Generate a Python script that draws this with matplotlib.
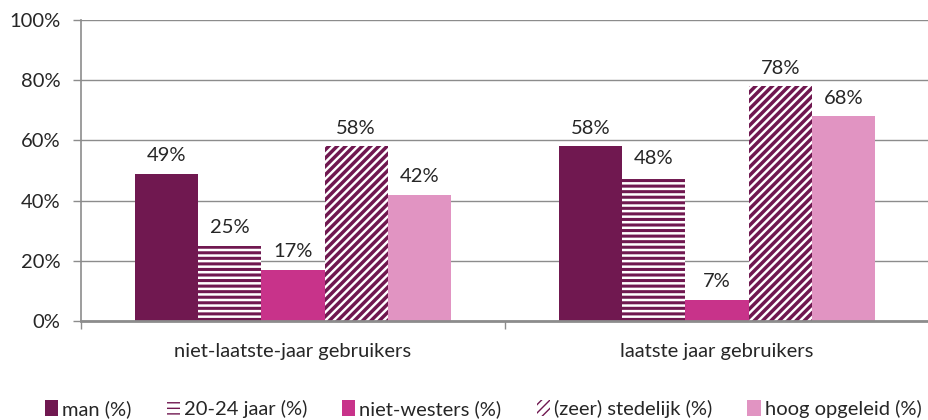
import matplotlib
matplotlib.use("Agg")
import matplotlib.pyplot as plt
import numpy as np

# data
groups = ["niet-laatste-jaar gebruikers", "laatste jaar gebruikers"]
series = ["man (%)", "20-24 jaar (%)", "niet-westers (%)", "(zeer) stedelijk (%)", "hoog opgeleid (%)"]
man = [49, 58]
jaar_20_24 = [25, 48]
niet_westers = [17, 7]
stedelijk = [58, 78]
hoog_opgeleid = [42, 68]
yticks = [0, 20, 40, 60, 80, 100]

values = [man, jaar_20_24, niet_westers, stedelijk, hoog_opgeleid]

dark = "#701850"
styles = [
    dict(color=dark),
    dict(facecolor="white", edgecolor=dark, hatch="---"),
    dict(color="#c8338a"),
    dict(facecolor="white", edgecolor=dark, hatch="////"),
    dict(color="#e194c2"),
]
hatch_lw = [1.0, 2.2, 1.0, 2.5, 1.0]

plt.rcParams["font.family"] = ["Lato", "DejaVu Sans"]
txt = "#262626"
grey = "#8c8c8c"
fs = 14.5

fig = plt.figure(figsize=(9.29, 4.2), dpi=100)
ax = fig.add_axes([81 / 929, 1 - 321 / 420, 1 - 81 / 929, (321 - 20) / 420])

x = np.arange(len(groups))
w = 0.149
for i, (name, vals) in enumerate(zip(series, values)):
    pos = x + (i - 2) * w
    plt.rcParams["hatch.linewidth"] = hatch_lw[i]
    bars = ax.bar(pos, vals, width=w, linewidth=0, label=name, zorder=2, **styles[i])
    for b, v in zip(bars, vals):
        ax.text(b.get_x() + b.get_width() / 2, v + 3.2, f"{v}%", ha="center", va="bottom",
                fontsize=fs, color=txt)

ax.set_xlim(-0.5, 1.5)
ax.set_ylim(0, 100)
ax.set_yticks(yticks)
ax.set_yticklabels([f"{t}%" for t in yticks], fontsize=fs, color=txt)
ax.set_xticks(x)
ax.set_xticklabels(groups, fontsize=fs, color=txt)
ax.tick_params(axis="x", length=0, pad=16)
ax.set_xticks([-0.5, 0.5, 1.5], minor=True)
ax.tick_params(axis="x", which="minor", length=6, color=grey, width=1)
ax.tick_params(axis="y", length=6, color=grey, width=1, pad=9)
ax.yaxis.grid(True, color=grey, linewidth=1, zorder=0)
ax.set_axisbelow(True)
for s in ["top", "right"]:
    ax.spines[s].set_visible(False)
ax.spines["left"].set_color(grey)
ax.spines["left"].set_linewidth(1.2)
ax.spines["bottom"].set_color(grey)
ax.spines["bottom"].set_linewidth(2)
ax.spines["bottom"].set_zorder(3)

leg = fig.legend(loc="center", bbox_to_anchor=(0.520, 1 - 409 / 420), ncol=5, frameon=False,
                 fontsize=fs, handlelength=0.65, handleheight=0.8, handletextpad=0.2,
                 columnspacing=1.75, labelcolor=txt, borderaxespad=0)

fig.savefig("out.png", dpi=100)
